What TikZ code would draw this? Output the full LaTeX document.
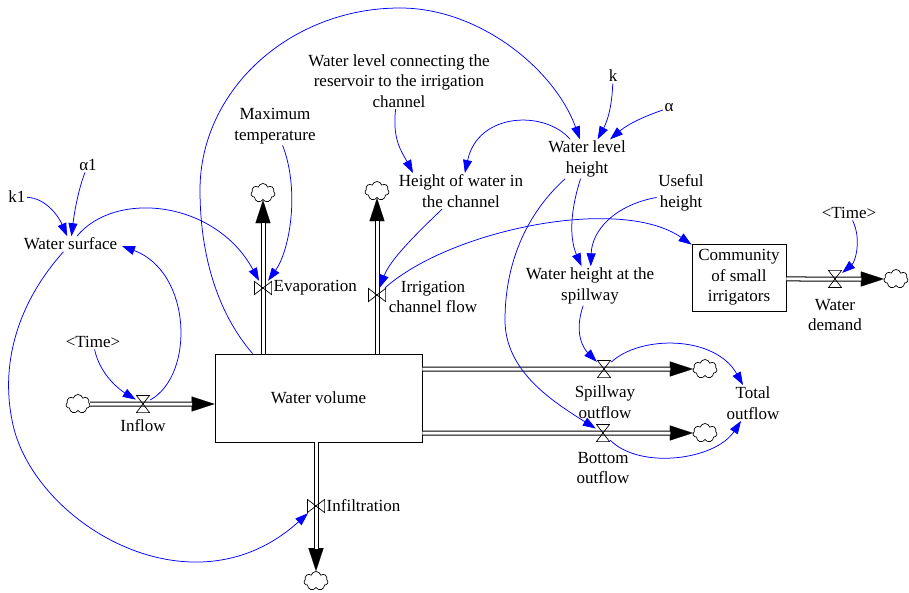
\documentclass[tikz,border=0pt]{standalone}
\usepackage{fontspec}
\setmainfont{Liberation Serif}
\usetikzlibrary{arrows.meta,shapes.symbols,calc}
\begin{document}
\begin{tikzpicture}[x=1pt,y=-1pt,
  lbl/.style={font=\fontsize{17}{20.5}\selectfont, align=center, inner sep=1.5pt},
  boxnode/.style={lbl, draw, line width=0.9pt},
  cloudnode/.style={cloud, cloud puffs=7, cloud ignores aspect, draw, line width=0.7pt, minimum width=24pt, minimum height=19pt, inner sep=0pt},
  hvalve/.style={minimum width=14pt, minimum height=18pt, inner sep=0pt,
    path picture={\draw[line width=0.7pt]
      ([shift={(0.4pt,-0.4pt)}]path picture bounding box.north west) --
      ([shift={(-0.4pt,-0.4pt)}]path picture bounding box.north east) --
      ([shift={(0.4pt,0.4pt)}]path picture bounding box.south west) --
      ([shift={(-0.4pt,0.4pt)}]path picture bounding box.south east) -- cycle;}},
  vvalve/.style={minimum width=18pt, minimum height=14pt, inner sep=0pt,
    path picture={\draw[line width=0.7pt]
      ([shift={(0.4pt,-0.4pt)}]path picture bounding box.north west) --
      ([shift={(0.4pt,0.4pt)}]path picture bounding box.south west) --
      ([shift={(-0.4pt,-0.4pt)}]path picture bounding box.north east) --
      ([shift={(-0.4pt,0.4pt)}]path picture bounding box.south east) -- cycle;}},
  pipe/.style={double, double distance=3pt, line width=1pt, shorten >=22.5pt},
  pipetip/.style={line width=0.1pt, -{Triangle[length=23pt,width=15pt]}},
  link/.style={draw=blue, line width=0.75pt, -{Triangle[length=13pt,width=9pt]}}
]
\useasboundingbox (0,0) rectangle (909,593);

% stocks
\node[boxnode, minimum width=207pt, minimum height=88pt] (stock) at (318.5,398) {Water volume};
\node[boxnode, minimum width=94pt, minimum height=67pt] (comm) at (739,277.5) {Community\\of small\\irrigators};

% clouds
\node[cloudnode] (inC) at (78,404) {};
\node[cloudnode] (evC) at (263,193) {};
\node[cloudnode] (irC) at (377,191) {};
\node[cloudnode] (spC) at (705,369) {};
\node[cloudnode] (boC) at (705,433) {};
\node[cloudnode] (dC) at (896,279) {};
\node[cloudnode] (infC) at (316,581) {};

% pipes (tip first, then the double pipe body over its thin guide line)
\draw[pipetip] (inC) -- (inC -| stock.west);
\draw[pipe] (inC) -- (inC -| stock.west);
\draw[pipetip] (stock.north -| evC) -- (evC);
\draw[pipe] (stock.north -| evC) -- (evC);
\draw[pipetip] (stock.north -| irC) -- (irC);
\draw[pipe] (stock.north -| irC) -- (irC);
\draw[pipetip] (stock.east |- spC) -- (spC);
\draw[pipe] (stock.east |- spC) -- (spC);
\draw[pipetip] (stock.east |- boC) -- (boC);
\draw[pipe] (stock.east |- boC) -- (boC);
\draw[pipetip] (stock.south -| infC) -- (infC);
\draw[pipe] (stock.south -| infC) -- (infC);
\draw[pipetip] (comm.east |- dC) -- (dC);
\draw[pipe] (comm.east |- dC) -- (dC);

% valves
\node[hvalve] (inV) at (143,404) {};
\node[vvalve] (evV) at (263,288) {};
\node[vvalve] (irV) at (377,295) {};
\node[hvalve] (spV) at (604,369) {};
\node[hvalve] (boV) at (603,433) {};
\node[hvalve] (dV) at (835,279) {};
\node[vvalve] (infV) at (316,506) {};

% labels / variables
\node[lbl] (inL) at (143,426) {Inflow};
\node[lbl] (timeA) at (93,342) {\textless Time\textgreater};
\node[lbl] (ws) at (70.5,244) {Water surface};
\node[lbl] (k1) at (17,197) {k1};
\node[lbl] (a1) at (88,165) {α1};
\node[lbl, anchor=west] (evL) at (272,288) {Evaporation};
\node[lbl] (irL) at (433,297) {Irrigation\\channel flow};
\node[lbl] (maxT) at (275,126) {Maximum\\temperature};
\node[lbl] (wlc) at (399,81) {Water level connecting the\\reservoir to the irrigation\\channel};
\node[lbl] (how) at (461,191) {Height of water in\\the channel};
\node[lbl] (wlh) at (587,159) {Water level\\height};
\node[lbl] (k) at (613,76) {k};
\node[lbl] (al) at (669,108) {α};
\node[lbl] (useful) at (681,193) {Useful\\height};
\node[lbl] (wsp) at (590,286) {Water height at the\\spillway};
\node[lbl] (spL) at (605,402) {Spillway\\outflow};
\node[lbl] (boL) at (603,468) {Bottom\\outflow};
\node[lbl] (total) at (753,403) {Total\\outflow};
\node[lbl] (dL) at (835,315) {Water\\demand};
\node[lbl] (timeB) at (849,213) {\textless Time\textgreater};
\node[lbl, anchor=west] (infL) at (325,506) {Infiltration};

% information links
\draw[link] (k1) .. controls (45,198) and (58,215) .. (ws);
\draw[link] (a1) .. controls (78,190) and (74,215) .. (ws);
\draw[link] (ws) .. controls (115,190) and (215,200) .. (evV);
\draw[link] (maxT) .. controls (300,190) and (290,250) .. (evV);
\draw[link] (inV) .. controls (195,375) and (192,272) .. ([xshift=3pt,yshift=-2pt]ws.east);
\draw[link] (timeA) .. controls (100,375) and (120,390) .. (inV);
\draw[link] (ws) .. controls (20,300) and (0,360) .. (12,420) .. controls (30,520) and (190,620) .. (infV);
\draw[link] ([xshift=38pt]stock.north west) .. controls (215,310) and (200,250) .. (200,190)
   .. controls (200,90) and (290,8) .. (400,8) .. controls (480,8) and (555,70) .. (wlh);
\draw[link] (wlc) .. controls (392,140) and (402,152) .. ([xshift=-48pt]how.north);
\draw[link] (wlh) .. controls (545,110) and (478,112) .. (how);
\draw[link] (k) .. controls (612,105) and (608,120) .. (wlh);
\draw[link] (al) .. controls (645,116) and (628,124) .. (wlh);
\draw[link] (wlh) .. controls (572,205) and (568,235) .. (wsp);
\draw[link] (useful) .. controls (615,205) and (592,230) .. (wsp);
\draw[link] (wsp) .. controls (573,335) and (585,350) .. (spV);
\draw[link] (wlh) .. controls (525,215) and (505,265) .. (505,320) .. controls (505,370) and (550,400) .. (boV);
\draw[link] (spV) .. controls (640,335) and (715,335) .. (total);
\draw[link] (boV) .. controls (640,470) and (715,460) .. (total);
\draw[link] (irV) .. controls (450,230) and (620,195) .. (comm);
\draw[link] (how) .. controls (415,235) and (390,260) .. (irV);
\draw[link] (timeB) .. controls (862,240) and (855,262) .. (dV);
\end{tikzpicture}
\end{document}
